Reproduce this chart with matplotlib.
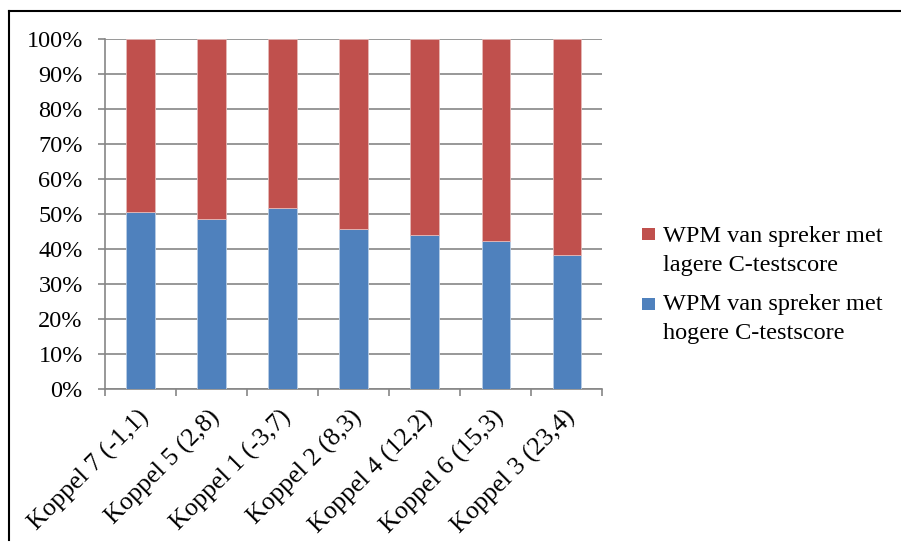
import numpy as np
import matplotlib
matplotlib.use('Agg')
import matplotlib.pyplot as plt
import matplotlib.transforms as mtransforms
from matplotlib.lines import Line2D
from matplotlib.patches import Rectangle
from matplotlib.ticker import FuncFormatter, FixedLocator

# data: share of words per minute per speaker pair (percent)
koppels  = ['Koppel 7 (-1,1)', 'Koppel 5 (2,8)', 'Koppel 1 (-3,7)', 'Koppel 2 (8,3)',
            'Koppel 4 (12,2)', 'Koppel 6 (15,3)', 'Koppel 3 (23,4)']
wpm_hoog = np.array([50.6, 48.6, 51.8, 45.8, 44.0, 42.4, 38.4])
wpm_laag = 100.0 - wpm_hoog

label_hoog = ['WPM van spreker met', 'hogere C-testscore']
label_laag = ['WPM van spreker met', 'lagere C-testscore']

col_blue = '#4F81BD'
col_red  = '#C0504D'
col_grid = '#868686'
fsize    = 17.5
W, H     = 901.0, 546.0

plt.rcParams['font.family'] = ['Liberation Serif', 'DejaVu Serif']

fig = plt.figure(figsize=(W / 100, H / 100), dpi=100)
ax = fig.add_axes([0.1165, 0.2875, 0.552, 0.641])

x = np.arange(len(koppels))
ax.bar(x, wpm_hoog, width=0.4, color=col_blue, edgecolor='#B9CDE5', linewidth=0.6, zorder=3)
ax.bar(x, wpm_laag, width=0.4, bottom=wpm_hoog, color=col_red, edgecolor='#E6B9B8',
       linewidth=0.6, zorder=3)

ax.set_xlim(-0.5, len(koppels) - 0.5)
ax.set_ylim(0, 100)
ax.set_yticks(np.arange(0, 101, 10))
ax.yaxis.set_major_formatter(FuncFormatter(lambda v, p: '%d%%' % v))
ax.grid(axis='y', color=col_grid, linewidth=1.2, zorder=0)

for s in ['top', 'right']:
    ax.spines[s].set_visible(False)
for s in ['left', 'bottom']:
    ax.spines[s].set_color(col_grid)
    ax.spines[s].set_linewidth(1.2)

ax.tick_params(axis='y', length=5, width=1.2, color=col_grid, pad=11, labelsize=fsize)
ax.set_xticks(x)
ax.set_xticklabels(koppels, rotation=45, ha='right', va='top', rotation_mode='anchor',
                   fontsize=18.5)
ax.tick_params(axis='x', which='major', length=0, pad=12)
shift = mtransforms.ScaledTranslation(-3 / 100, 0, fig.dpi_scale_trans)
for lab in ax.get_xticklabels():
    lab.set_transform(lab.get_transform() + shift)
ax.xaxis.set_minor_locator(FixedLocator(np.arange(-0.5, len(koppels), 1.0)))
ax.tick_params(axis='x', which='minor', length=5, width=1.2, color=col_grid)

# legend drawn by hand so the square sits next to the first line
leg = [(col_red, label_laag, 228, 242), (col_blue, label_hoog, 298, 310)]
for col, lines, ptop, base in leg:
    fig.add_artist(Rectangle((642 / W, 1 - (ptop + 12) / H), 13 / W, 12 / H,
                             transform=fig.transFigure, facecolor=col, edgecolor='none'))
    for i, line in enumerate(lines):
        fig.text(663 / W, 1 - (base + 29 * i) / H, line, fontsize=fsize,
                 va='baseline', ha='left')

# chart frame (left and top edge)
fig.add_artist(Line2D([0.010, 0.010], [0.011, 0.980], color='black', linewidth=1.5))
fig.add_artist(Line2D([0.010, 1.0], [0.980, 0.980], color='black', linewidth=1.5))

fig.savefig('out.png', dpi=100, facecolor='white')
